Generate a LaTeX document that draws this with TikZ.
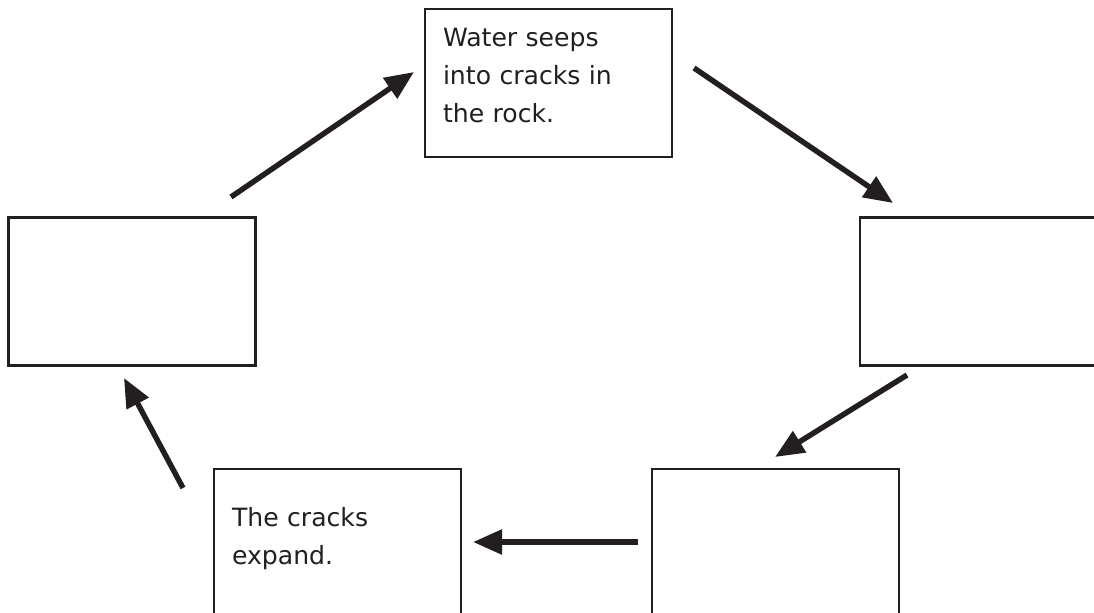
\documentclass[tikz,border=0pt]{standalone}
\usepackage{fontspec}
\setmainfont{DejaVu Sans}
\usepackage{tikz}
\usetikzlibrary{arrows.meta}
\definecolor{ink}{HTML}{231F20}

\begin{document}
\begin{tikzpicture}[x=0.2mm,y=-0.2mm]
    \tikzstyle{stage}=[rectangle, draw=ink, line width=1.5pt, minimum width=49.4mm, minimum height=29.6mm, text width=42.2mm, inner xsep=0pt, align=left, text=ink, font=\fontsize{14.3}{21.6}\selectfont, execute at end node={\rule[-3mm]{0pt}{0pt}}]
    \tikzstyle{flow}=[-{Triangle[length=5.8mm,width=4.8mm]}, line width=3.1pt, draw=ink]
    \useasboundingbox (0,0) rectangle (1094,612);
    \clip (0,0) rectangle (1094,612);
    % the five stages
    \node[stage] (seep) at (548.5,83) {Water seeps\\into cracks in\\the rock.};
    \node[stage] (right) at (983.5,291.5) {};
    \node[stage] (lowright) at (775.5,543) {};
    \node[stage] (expand) at (337.5,543) {The cracks\\expand.};
    \node[stage] (left) at (132,291.5) {};
    % arrow ends
    \coordinate (leftout) at (231,197);
    \coordinate (seepin) at (414,72);
    \coordinate (seepout) at (694,68);
    \coordinate (rightin) at (893,203);
    \coordinate (rightout) at (907,375);
    \coordinate (lowrightin) at (775,457);
    \coordinate (lowrightout) at (638,542);
    \coordinate (expandin) at (473,542);
    \coordinate (expandout) at (183,488);
    \coordinate (leftin) at (124,378);
    \draw[flow] (leftout) -- (seepin);
    \draw[flow] (seepout) -- (rightin);
    \draw[flow] (rightout) -- (lowrightin);
    \draw[flow] (lowrightout) -- (expandin);
    \draw[flow] (expandout) -- (leftin);
\end{tikzpicture}
\end{document}
